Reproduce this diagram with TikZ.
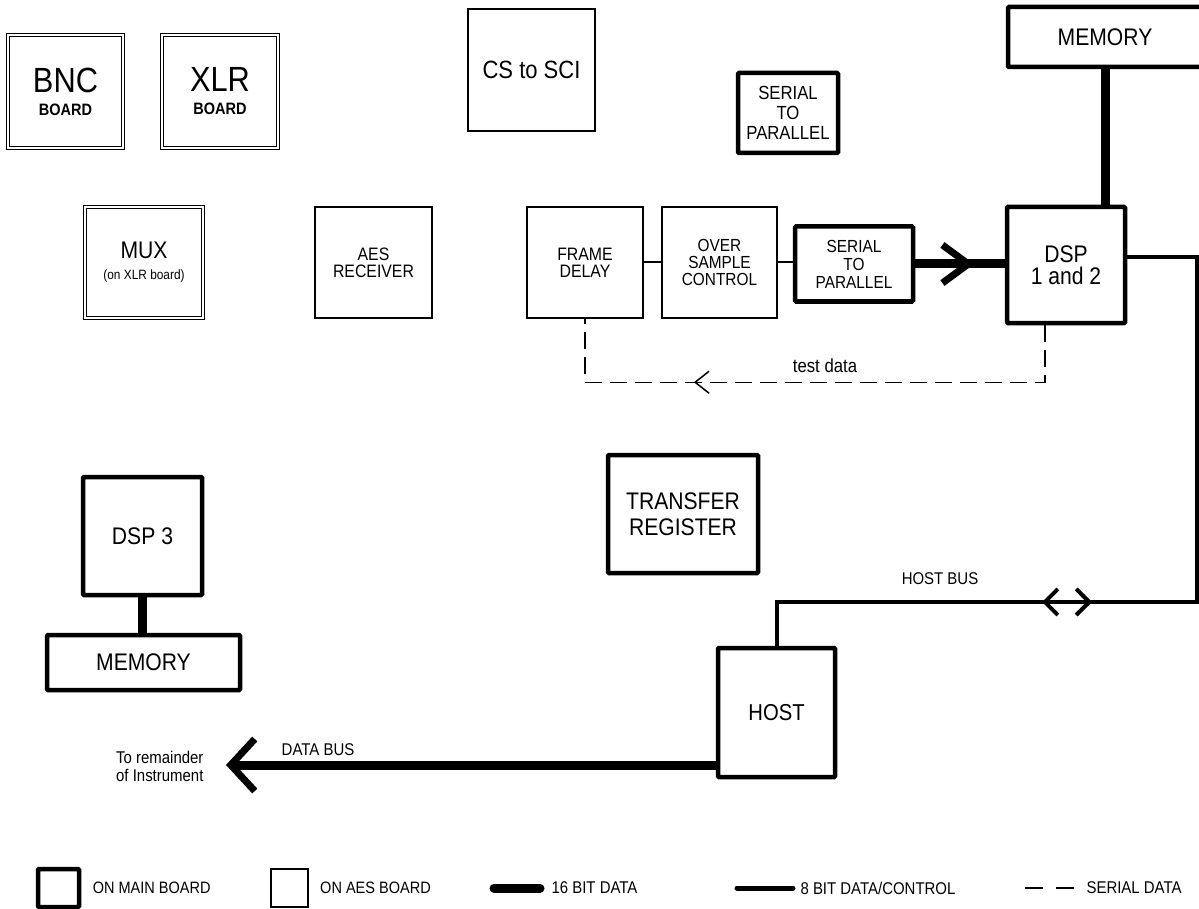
\documentclass[tikz,border=0pt]{standalone}
\usepackage{fontspec}
\setmainfont{Liberation Sans}[FakeStretch=0.88]
\usetikzlibrary{positioning,arrows.meta,decorations.markings}

\tikzset{
  mainbox/.style={draw, line width=4.5pt, rounded corners=1pt, align=center, inner sep=0pt},
  aesbox/.style={draw, line width=1.4pt, align=center, inner sep=0pt},
  dblbox/.style={draw, double, double distance=2.2pt, line width=1.1pt, align=center, inner sep=0pt},
  bus16/.style={line width=9pt},
  bus8/.style={line width=4pt},
  serial/.style={line width=1.5pt, dash pattern=on 17pt off 8pt},
  fs/.style 2 args={font=\fontsize{#1}{#2}\selectfont},
}

\begin{document}
\begin{tikzpicture}[x=1pt, y=-1pt]
    \useasboundingbox (0,0) rectangle (1199,909);
    % Boards
    \node[dblbox, fs={35}{23}, minimum width=115, minimum height=113] (bnc) at (65.5,91.5)
        {BNC\\{\fontsize{16.5}{23}\selectfont\bfseries BOARD}};
    \node[dblbox, fs={35}{23}, minimum width=116, minimum height=113] (xlr) at (220,91.5)
        {XLR\\{\fontsize{16.5}{23}\selectfont\bfseries BOARD}};
    \node[dblbox, fs={24}{21}, minimum width=118, minimum height=111] (mux) at (144,262.5)
        {MUX\\{\fontsize{13.5}{21}\selectfont (on XLR board)}};
    % AES board blocks
    \node[aesbox, fs={25}{25}, minimum width=127, minimum height=122] (cssci) at (531.5,70) {CS to SCI};
    \node[aesbox, fs={18}{17}, minimum width=117, minimum height=111] (aes) at (373.5,262.5) {AES\\RECEIVER};
    \node[aesbox, fs={18}{17}, minimum width=116, minimum height=111] (frame) at (585,262.5) {FRAME\\DELAY};
    \node[aesbox, fs={17.5}{17}, minimum width=115, minimum height=111] (over) at (719.5,262.5) {OVER\\SAMPLE\\CONTROL};
    % Main board blocks
    \node[mainbox, fs={19}{20}, minimum width=100, minimum height=80] (sptop) at (788,113) {SERIAL\\TO\\PARALLEL};
    \node[mainbox, fs={17.5}{18}, minimum width=118, minimum height=75] (spmid) at (854,264) {SERIAL\\TO\\PARALLEL};
    \node[mainbox, fs={24}{24}, minimum width=194, minimum height=60] (memtop) at (1105,37) {MEMORY};
    \node[mainbox, fs={24}{22}, minimum width=118, minimum height=116] (dsp12) at (1066,265) {DSP\\1 and 2};
    \node[mainbox, fs={24}{26}, minimum width=150, minimum height=118] (treg) at (683,514) {TRANSFER\\REGISTER};
    \node[mainbox, fs={24}{24}, minimum width=119, minimum height=118] (dsp3) at (142.5,536) {DSP 3};
    \node[mainbox, fs={24}{24}, minimum width=193, minimum height=55] (membot) at (143.5,662.5) {MEMORY};
    \node[mainbox, fs={23}{24}, minimum width=117, minimum height=129] (host) at (776.5,712.5) {HOST};

    % Serial chain
    \draw[line width=2pt] (frame.east) -- (over.west);
    \draw[line width=2pt] (over.east) -- (over.east -| spmid.west);
    \draw[bus16, postaction={decorate, decoration={markings,
        mark=at position 0.66 with {\arrow{Straight Barb[length=26pt, width=38pt, line width=7pt]}}}}]
        (spmid.east) -- (spmid.east -| dsp12.west);
    % Memory buses
    \draw[bus16] (dsp12.north -| memtop.south) -- (memtop.south);
    \draw[bus16] (dsp3.south) -- (dsp3.south |- membot.north);
    % Test data loop
    \draw[serial, postaction={decorate, decoration={markings,
        mark=at position 0.703 with {\arrow{Straight Barb[length=14pt, width=22pt, line width=1.5pt]}}}}]
        ([xshift=-21pt]dsp12.south) -- ++(0,57) -| (frame.south);
    \node[fs={19}{19}] (testlbl) at (825,366) {test data};
    % Host bus
    \coordinate (hbcorner) at (1197,602);
    \draw[bus8] ([yshift=8pt]dsp12.east) -| (hbcorner) -- (host.north |- hbcorner) -- (host.north);
    \coordinate (hbl) at (1042,602);
    \coordinate (hbr) at (1092,602);
    \draw[bus8, {Straight Barb[length=13pt, width=26pt, line width=4pt]}-{Straight Barb[length=13pt, width=26pt, line width=4pt]}]
        (hbl) -- (hbr);
    \node[fs={17}{17}] (hostlbl) at (940,579) {HOST BUS};
    % Data bus
    \coordinate (rest) at (226,765);
    \draw[bus16, -{Straight Barb[length=24pt, width=52pt, line width=7pt]}] (host.west |- rest) -- (rest);
    \node[fs={17}{17}] (datalbl) at (318,750) {DATA BUS};
    \node[fs={17}{18}, align=right, anchor=east] (restlbl) at (207,766) {To remainder\\of Instrument};

    % Legend
    \node[mainbox, minimum width=41, minimum height=38] (lgmain) at (58.5,888) {};
    \node[fs={16.5}{17}, right=8pt of lgmain] (lgmaintxt) {ON MAIN BOARD};
    \node[aesbox, minimum width=37, minimum height=38] (lgaes) at (289.5,888) {};
    \node[fs={16.5}{17}, right=8pt of lgaes] (lgaestxt) {ON AES BOARD};
    \coordinate (l16a) at (494,888);
    \coordinate (l16b) at (540,888);
    \draw[bus16, line cap=round] (l16a) -- (l16b);
    \node[fs={17}{17}, right=8pt of l16b] (l16txt) {16 BIT DATA};
    \coordinate (l8a) at (737,888);
    \coordinate (l8b) at (793,888);
    \draw[line width=5pt, line cap=round] (l8a) -- (l8b);
    \node[fs={17}{17}, right=4pt of l8b] (l8txt) {8 BIT DATA/CONTROL};
    \coordinate (lsa) at (1025,888);
    \coordinate (lsb) at (1075,888);
    \draw[line width=1.5pt, dash pattern=on 18pt off 13pt] (lsa) -- (lsb);
    \node[fs={17}{17}, right=8pt of lsb] (lstxt) {SERIAL DATA};
\end{tikzpicture}
\end{document}
